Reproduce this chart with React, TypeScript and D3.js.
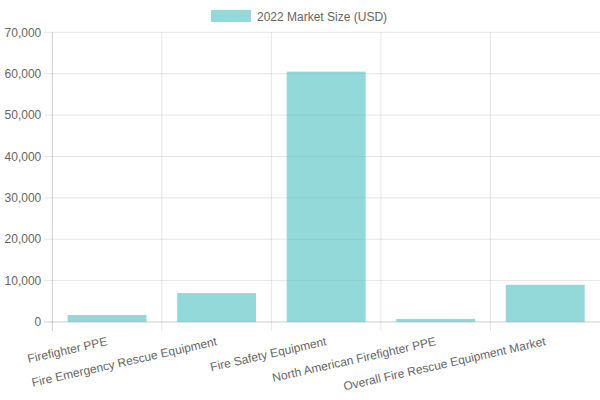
import React from 'react';
import * as d3 from 'd3';

// values
const categories = [
  'Firefighter PPE',
  'Fire Emergency Rescue Equipment',
  'Fire Safety Equipment',
  'North American Firefighter PPE',
  'Overall Fire Rescue Equipment Market',
];
const marketSize = [1700, 7000, 60500, 750, 9000];
const yTicks = [0, 10000, 20000, 30000, 40000, 50000, 60000, 70000];
const seriesLabel = '2022 Market Size (USD)';

const W = 600;
const H = 400;
const margin = { left: 52.3, right: 0, top: 32.3, bottom: 78 };
const font = '"Helvetica Neue", Helvetica, Arial, "Liberation Sans", sans-serif';
const textColor = '#666';
const gridColor = 'rgba(0,0,0,0.1)';
const axisColor = 'rgba(0,0,0,0.2)';
const barColor = 'rgba(75,192,192,0.6)';

export default function App() {
  const x = d3
    .scaleBand<string>()
    .domain(categories)
    .range([margin.left, W - margin.right])
    .paddingInner(0)
    .paddingOuter(0);
  const y = d3
    .scaleLinear()
    .domain([0, 70000])
    .range([H - margin.bottom, margin.top]);
  const fmt = d3.format(',');
  const bw = x.bandwidth();
  const barW = bw * 0.72;
  const y0 = y(0);
  // last grid line sits on the canvas edge, so only the category starts are drawn
  const gridEdges = categories.map((c) => x(c)!);

  return (
    <div style={{ position: 'absolute', left: 0, top: 0 }}>
      <svg width={W} height={H} style={{ display: 'block', fontFamily: font }}>
        {/* legend */}
        <g>
          <rect x={211} y={10} width={40} height={12} fill={barColor} />
          <text x={257} y={20.5} fontSize={12} fill={textColor}>
            {seriesLabel}
          </text>
        </g>

        {/* horizontal grid + y ticks */}
        {yTicks.map((t) => (
          <g key={'y' + t}>
            <line
              x1={margin.left - 8}
              x2={W - margin.right}
              y1={y(t)}
              y2={y(t)}
              stroke={t === 0 ? axisColor : gridColor}
              strokeWidth={1}
            />
            <text
              x={margin.left - 11}
              y={y(t)}
              dy="0.35em"
              textAnchor="end"
              fontSize={12}
              fill={textColor}
            >
              {fmt(t)}
            </text>
          </g>
        ))}

        {/* vertical grid lines */}
        {gridEdges.map((gx, i) => (
          <line
            key={'v' + i}
            x1={gx}
            x2={gx}
            y1={margin.top}
            y2={y0 + 9}
            stroke={i === 0 ? axisColor : gridColor}
            strokeWidth={1}
          />
        ))}

        {/* bars */}
        {categories.map((c, i) => (
          <rect
            key={'b' + c}
            x={x(c)! + (bw - barW) / 2}
            y={y(marketSize[i])}
            width={barW}
            height={y0 - y(marketSize[i])}
            fill={barColor}
          />
        ))}

        {/* rotated category labels */}
        {categories.map((c) => {
          const cx = x(c)! + bw / 2;
          const ly = y0 + 19;
          return (
            <text
              key={'l' + c}
              transform={`translate(${cx},${ly}) rotate(-12.7)`}
              dy="0.35em"
              textAnchor="end"
              fontSize={12}
              fill={textColor}
            >
              {c}
            </text>
          );
        })}
      </svg>
    </div>
  );
}
